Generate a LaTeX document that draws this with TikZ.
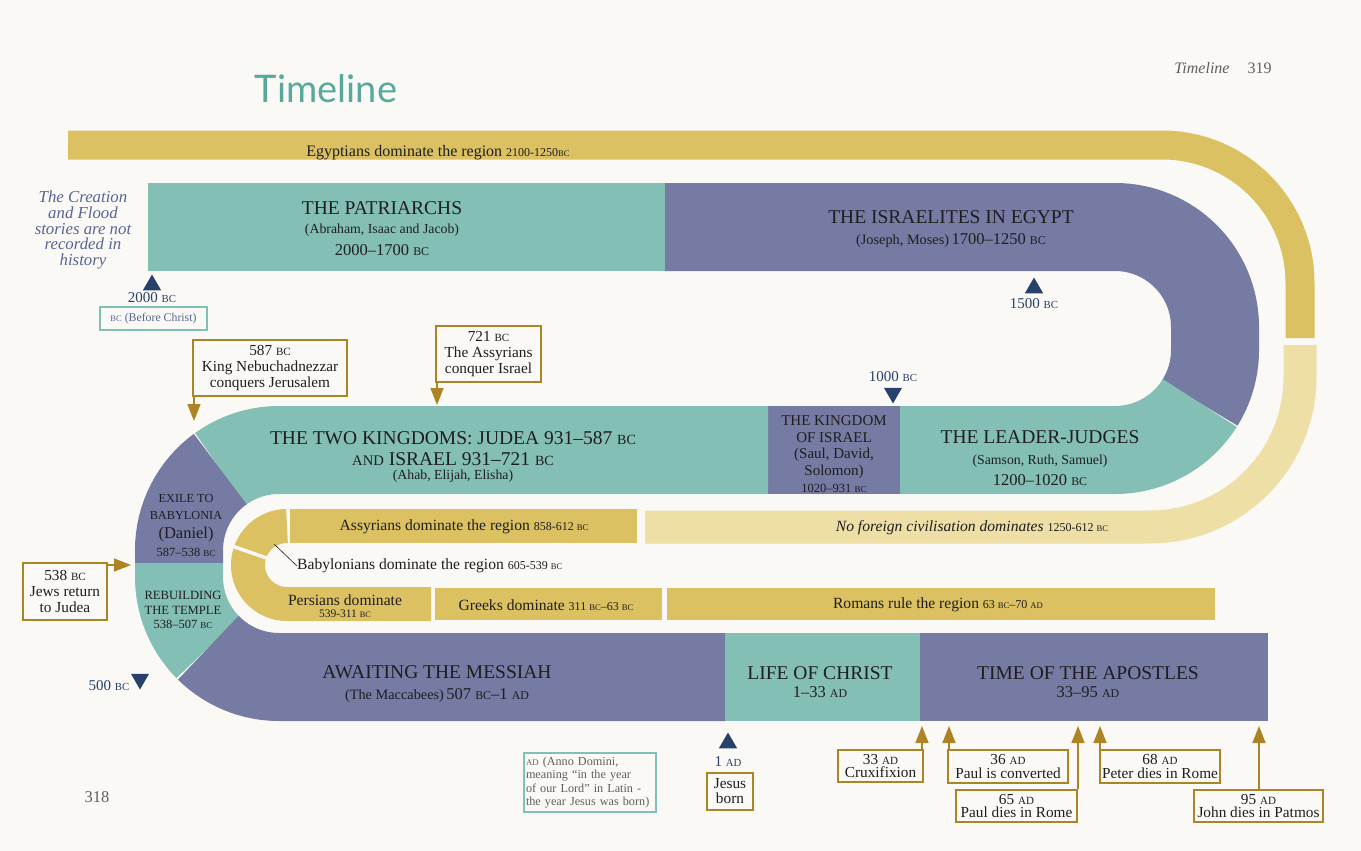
\documentclass[tikz,border=0pt]{standalone}
\usepackage{fontspec}
\setmainfont{Liberation Serif}
\newfontfamily\titlefont{Lato}
\usetikzlibrary{arrows.meta,shapes.geometric}
\definecolor{bg}{RGB}{250,249,245}
\definecolor{gold}{RGB}{219,193,98}
\definecolor{pale}{RGB}{237,223,166}
\definecolor{tealb}{RGB}{132,191,181}
\definecolor{slate}{RGB}{117,123,162}
\definecolor{navy}{RGB}{40,64,108}
\definecolor{ochre}{RGB}{172,132,38}
\definecolor{boxteal}{RGB}{128,192,182}
\definecolor{ink}{RGB}{30,30,32}
\definecolor{titleteal}{RGB}{88,168,158}
\definecolor{creation}{RGB}{88,100,150}
\definecolor{grayt}{RGB}{95,95,95}
\newcommand\fsz[2]{\fontsize{#1}{#2}\selectfont}
\newcommand\bcs{\scalebox{0.72}{BC}}
\newcommand\ads{\scalebox{0.72}{AD}}
\newcommand\smn{\fsz{12}{13}}
\tikzset{
  band/.style={line width=88pt},
  lbl/.style={text=ink, align=center, inner sep=0pt},
  hd/.style={lbl, font=\fsz{19.5}{22}},
  sub/.style={lbl, font=\fsz{13.8}{16}},
  dt/.style={lbl, font=\fsz{16.5}{19}},
  sm/.style={lbl, font=\fsz{15.6}{17}},
  cbox/.style={draw=ochre, line width=1.3pt, fill=bg, align=center, inner sep=1pt, text=ink, font=\fsz{15.3}{16}},
  tbox/.style={draw=boxteal, line width=1.2pt, fill=bg, inner sep=2pt},
  arr/.style={draw=ochre, line width=1.6pt, -{Triangle[width=13pt,length=17pt]}},
  tri/.style={regular polygon, regular polygon sides=3, fill=navy, minimum size=21pt, inner sep=0pt},
  tlbl/.style={text=navy, inner sep=0pt, font=\fsz{15}{16}},
}
\begin{document}
\begin{tikzpicture}[x=1pt,y=-1pt]
\fill[bg] (0,0) rectangle (1361,851);
\useasboundingbox (0,0) rectangle (1361,851);

% ---- gold bands ----
\draw[gold, line width=29pt, rounded corners=138pt] (68,145) -- (1300,145) -- (1300,338);
\draw[pale, line width=33pt, rounded corners=150pt] (1300,345) -- (1300,527) -- (645,527);
\draw[gold, line width=34pt] (290,526) -- (637,526);
\draw[gold, line width=34pt] (287,526) arc[start angle=270, end angle=90, radius=39] -- (431,604);
\draw[bg, line width=3.5pt] (268.1,558.5) -- (230.2,545.4);
\draw[gold, line width=32pt] (435,604) -- (662,604);
\draw[gold, line width=32pt] (667,604) -- (1215,604);

% ---- main band ----
\draw[band, draw=tealb] (148,227) -- (665,227);
\draw[band, draw=slate] (665,227) -- (1115,227) arc[start angle=-90, end angle=0, radius=100] -- (1215,350) arc[start angle=0, end angle=32, radius=100];
\draw[band, draw=tealb] (1199.81,402.99) arc[start angle=32, end angle=90, radius=100] -- (900,450);
\draw[band, draw=slate] (900,450) -- (768,450);
\draw[band, draw=tealb] (768,450) -- (279,450) arc[start angle=270, end angle=234, radius=100];
\draw[band, draw=slate] (220.22,469.10) arc[start angle=234, end angle=180, radius=100] -- (179,563);
\draw[band, draw=tealb] (179,563) -- (179,577) arc[start angle=180, end angle=135, radius=100];
\draw[band, draw=slate] (208.29,647.71) arc[start angle=135, end angle=90, radius=100] -- (725,677);
\draw[band, draw=tealb] (725,677) -- (920,677);
\draw[band, draw=slate] (920,677) -- (1268,677);

% ---- titles ----
\node[inner sep=0pt, text=titleteal, font=\titlefont\fsz{38}{40}] (title) at (326,89) {Timeline};
\node[inner sep=0pt, text=grayt, font=\fsz{16}{18}] (head) at (1223,68) {\textit{Timeline}\hspace{18pt}319};
\node[inner sep=0pt, text=grayt, font=\fsz{16.5}{18}] (p318) at (97,797) {318};
\node[inner sep=0pt, text=creation, align=center, font=\itshape\fsz{16.8}{15.6}] (creation) at (83,230) {The Creation\\and Flood\\stories are not\\recorded in\\history};

% ---- band texts ----
\node[lbl, font=\fsz{16}{18}] (egypt) at (438,153) {Egyptians dominate the region {\smn 2100-1250\bcs}};
\node[hd] (patrA) at (382,208) {THE PATRIARCHS};
\node[sub] (patrB) at (382,230) {(Abraham, Isaac and Jacob)};
\node[dt] (patrC) at (382,250) {2000–1700 \bcs};
\node[hd] (isrA) at (951,217) {THE ISRAELITES IN EGYPT};
\node[lbl] (isrB) at (951,241) {{\fsz{14.3}{16}(Joseph, Moses)} {\fsz{16.5}{19}1700–1250 \bcs}};
\node[hd] (twoA) at (453,438) {THE TWO KINGDOMS: JUDEA 931–587 \bcs};
\node[hd] (twoB) at (453,459) {\scalebox{0.75}{AND} ISRAEL 931–721 \bcs};
\node[sub] (twoC) at (453,476) {(Ahab, Elijah, Elisha)};
\node[lbl, font=\fsz{15}{16.7}] (kingA) at (834,447) {THE KINGDOM\\OF ISRAEL\\(Saul, David,\\Solomon)};
\node[lbl, font=\fsz{12.5}{14}] (kingB) at (834,488) {1020–931 \bcs};
\node[hd] (leadA) at (1040,437) {THE LEADER-JUDGES};
\node[sub] (leadB) at (1040,461) {(Samson, Ruth, Samuel)};
\node[dt] (leadC) at (1040,480) {1200–1020 \bcs};
\node[lbl, font=\itshape\fsz{15.6}{17}] (nofor) at (972,528) {No foreign civilisation dominates {\upshape\smn 1250-612 \bcs}};
\node[sm] (assyr) at (464,527) {Assyrians dominate the region {\smn 858-612 \bcs}};
\node[sm, anchor=west] (babyl) at (297,566) {Babylonians dominate the region {\smn 605-539 \bcs}};
\coordinate (bpt) at (274,544);
\draw[ink, line width=0.6pt] (bpt) -- (babyl.west);
\node[sm] (persA) at (345,600) {Persians dominate};
\node[lbl, font=\fsz{11.5}{12}] (persB) at (345,614) {539-311 \bcs};
\node[sm] (greek) at (546,605) {Greeks dominate {\smn 311 \bcs–63 \bcs}};
\node[sm] (roman) at (938,605) {Romans rule the region {\smn 63 \bcs–70 \ads}};
\node[lbl, font=\fsz{12.3}{17.5}] (exA) at (186,507) {EXILE TO\\BABYLONIA};
\node[lbl, font=\fsz{16.5}{17}] (exB) at (186,535) {(Daniel)};
\node[lbl, font=\fsz{12.5}{14}] (exC) at (186,552) {587–538 \bcs};
\node[lbl, font=\fsz{12.6}{14.5}] (rbA) at (183,603) {REBUILDING\\THE TEMPLE};
\node[lbl, font=\fsz{12.5}{14}] (rbB) at (183,624) {538–507 \bcs};
\node[hd] (awA) at (437,672) {AWAITING THE MESSIAH};
\node[lbl] (awB) at (437,696) {{\fsz{14.3}{16}(The Maccabees)} {\fsz{16.5}{19}507 \bcs–1 \ads}};
\node[hd] (lcA) at (820,673) {LIFE OF CHRIST};
\node[dt] (lcB) at (820,692) {1–33 \ads};
\node[hd] (apA) at (1088,673) {TIME OF THE APOSTLES};
\node[dt] (apB) at (1088,692) {33–95 \ads};

% ---- markers ----
\node[tri] (m2000) at (152,285) {};
\node[tlbl] (l2000) at (152,298) {2000 \bcs};
\node[tri] (m1500) at (1034,288) {};
\node[tlbl] (l1500) at (1034,304) {1500 \bcs};
\node[tri, shape border rotate=180] (m1000) at (893,393) {};
\node[tlbl] (l1000) at (893,377) {1000 \bcs};
\node[tri, shape border rotate=180] (m500) at (140,679) {};
\node[tlbl] (l500) at (109,686) {500 \bcs};
\node[tri] (m1) at (728,743) {};
\node[tlbl] (l1) at (728,762) {1 \ads};

% ---- note boxes ----
\node[tbox, text=creation, font=\fsz{11.8}{13}, minimum width=107pt, minimum height=23pt] (bBC) at (153.5,318.5) {\bcs{} (Before Christ)};
\node[tbox, text=grayt, font=\fsz{12.2}{13.4}, align=left, text width=128pt, minimum height=59pt] (bAD) at (590,782.5) {\ads{} (Anno Domini,\\meaning “in the year\\of our Lord” in Latin -\\the year Jesus was born)};

% ---- callouts ----
\node[cbox, minimum width=154pt, minimum height=56pt] (b587) at (270,368) {587 \bcs\\King Nebuchadnezzar\\conquers Jerusalem};
\node[cbox, minimum width=105pt, minimum height=56pt] (b721) at (488.5,354) {721 \bcs\\The Assyrians\\conquer Israel};
\node[cbox, minimum width=84pt, minimum height=57pt] (b538) at (65,591.5) {538 \bcs\\Jews return\\to Judea};
\node[cbox, font=\fsz{15.3}{15}, minimum width=46pt, minimum height=37pt] (bJesus) at (730,791.5) {Jesus\\born};
\node[cbox, font=\fsz{15.3}{13.5}, minimum width=85pt, minimum height=32pt] (b33) at (880.5,766) {33 \ads\\Cruxifixion};
\node[cbox, font=\fsz{15.3}{13.5}, minimum width=120pt, minimum height=33pt] (b36) at (1008,766.5) {36 \ads\\Paul is converted};
\node[cbox, font=\fsz{15.3}{13.5}, minimum width=121pt, minimum height=32pt] (b65) at (1016.5,806) {65 \ads\\Paul dies in Rome};
\node[cbox, font=\fsz{15.3}{13.5}, minimum width=120pt, minimum height=33pt] (b68) at (1160,766.5) {68 \ads\\Peter dies in Rome};
\node[cbox, font=\fsz{15.3}{13.5}, minimum width=129pt, minimum height=32pt] (b95) at (1258.5,806) {95 \ads\\John dies in Patmos};

% ---- arrows ----
\coordinate (t587) at (194,421);
\coordinate (t721) at (437,405);
\coordinate (t538) at (131,565);
\coordinate (t33) at (922,726);
\coordinate (t36) at (949,726);
\coordinate (t65) at (1078,726);
\coordinate (t68) at (1100,726);
\coordinate (t95) at (1259,726);
\draw[arr] (b587.south west -| t587) -- (t587);
\draw[arr] (b721.south west -| t721) -- (t721);
\draw[arr] (b538.north east |- t538) -- (t538);
\draw[arr] (b33.north -| t33) -- (t33);
\draw[arr] (b36.north -| t36) -- (t36);
\draw[arr] (b65.north -| t65) -- (t65);
\draw[arr] (b68.north -| t68) -- (t68);
\draw[arr] (b95.north -| t95) -- (t95);
\end{tikzpicture}
\end{document}
